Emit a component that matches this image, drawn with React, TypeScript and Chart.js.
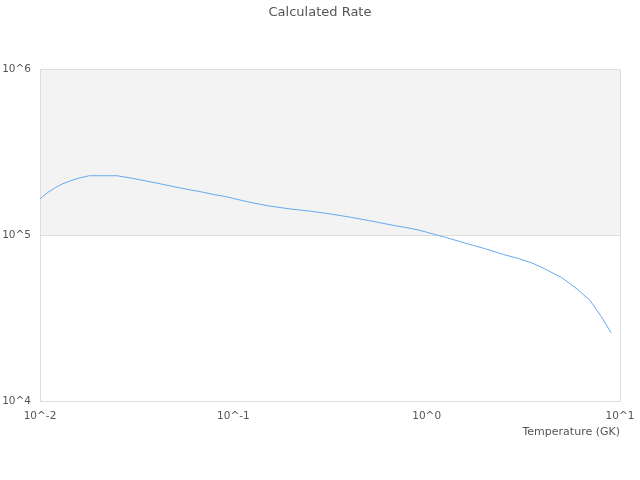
import { Chart, registerables, Plugin } from "chart.js";
import { useEffect, useRef } from "react";

Chart.register(...registerables);

const temperatures = [
  0.01, 0.011, 0.012, 0.013, 0.014, 0.015, 0.016, 0.018, 0.025, 0.03, 0.04,
  0.05, 0.06, 0.07, 0.08, 0.09, 0.1, 0.12, 0.15, 0.2, 0.25, 0.3, 0.4, 0.5,
  0.6, 0.7, 0.8, 0.9, 1, 1.25, 1.5, 1.75, 2, 2.5, 3, 3.5, 4, 5, 6, 7, 8, 9,
];

const rates = [
  1.66e5, 1.82e5, 1.94e5, 2.04e5, 2.11e5, 2.17e5, 2.22e5, 2.29e5, 2.29e5,
  2.21e5, 2.07e5, 1.96e5, 1.88e5, 1.82e5, 1.76e5, 1.72e5, 1.67e5, 1.59e5,
  1.51e5, 1.44e5, 1.4e5, 1.36e5, 1.29e5, 1.23e5, 1.18e5, 1.14e5, 1.11e5,
  1.08e5, 1.045e5, 9.74e4, 9.15e4, 8.7e4, 8.32e4, 7.67e4, 7.24e4, 6.82e4,
  6.36e4, 5.56e4, 4.75e4, 4.05e4, 3.24e4, 2.58e4,
];

const xTicks = [0.01, 0.1, 1, 10];
const yTicks = [1e4, 1e5, 1e6];
const bandRange = [1e5, 1e6];

const TEXT = "#555555";
const FONT = "'DejaVu Sans', sans-serif";

const powerLabel = (v: number | string) => "10^" + Math.round(Math.log10(Number(v)));

// grey band between 10^5 and 10^6, plus the right-hand frame line
const bandPlugin: Plugin = {
  id: "band",
  beforeDraw(chart) {
    const { ctx, chartArea, scales } = chart;
    const y = scales.y;
    const top = y.getPixelForValue(bandRange[1]);
    const bottom = y.getPixelForValue(bandRange[0]);
    ctx.save();
    ctx.fillStyle = "#f3f3f3";
    ctx.fillRect(chartArea.left, top, chartArea.right - chartArea.left, bottom - top);
    ctx.strokeStyle = "#dddddd";
    ctx.lineWidth = 1;
    ctx.beginPath();
    ctx.moveTo(Math.round(chartArea.right) + 0.5, chartArea.top);
    ctx.lineTo(Math.round(chartArea.right) + 0.5, chartArea.bottom);
    ctx.stroke();
    ctx.restore();
  },
};

function RateChart() {
  const canvasRef = useRef<HTMLCanvasElement>(null);
  const chartRef = useRef<Chart | null>(null);

  useEffect(() => {
    if (!canvasRef.current) return;
    if (chartRef.current) chartRef.current.destroy();

    chartRef.current = new Chart(canvasRef.current, {
      type: "line",
      data: {
        datasets: [
          {
            label: "Rate",
            data: temperatures.map((t, i) => ({ x: t, y: rates[i] })),
            borderColor: "rgb(100,170,240)",
            borderWidth: 1,
            pointRadius: 0,
            tension: 0,
            fill: false,
          },
        ],
      },
      options: {
        animation: false,
        responsive: true,
        maintainAspectRatio: false,
        layout: { padding: { left: 0, right: 0, bottom: 41 } },
        plugins: {
          legend: { display: false },
          tooltip: { enabled: false },
          title: {
            display: true,
            text: "Calculated Rate",
            color: TEXT,
            font: { family: FONT, size: 13, weight: "normal" },
            padding: { top: 5, bottom: 49 },
          },
        },
        scales: {
          x: {
            type: "logarithmic",
            min: 0.01,
            max: 10,
            afterBuildTicks: (scale) => {
              scale.ticks = xTicks.map((v) => ({ value: v }));
            },
            afterFit: (scale) => {
              scale.paddingRight = 20;
              scale.paddingLeft = 0;
            },
            grid: { display: false, drawTicks: false },
            border: { display: true, color: "#dddddd" },
            ticks: {
              color: TEXT,
              font: { family: FONT, size: 10.5 },
              padding: 9,
              maxRotation: 0,
              autoSkip: false,
              callback: powerLabel,
            },
            title: {
              display: true,
              text: "Temperature (GK)",
              align: "end",
              color: TEXT,
              font: { family: FONT, size: 11 },
              padding: { top: -6, bottom: 0 },
            },
          },
          y: {
            type: "logarithmic",
            min: 1e4,
            max: 1e6,
            afterBuildTicks: (scale) => {
              scale.ticks = yTicks.map((v) => ({ value: v }));
            },
            afterFit: (scale) => {
              scale.width = 40;
            },
            grid: { color: "#dddddd", drawTicks: false },
            border: { display: true, color: "#dddddd" },
            ticks: {
              color: TEXT,
              font: { family: FONT, size: 10.5 },
              padding: 9,
              autoSkip: false,
              callback: powerLabel,
            },
          },
        },
      },
      plugins: [bandPlugin],
    });

    return () => {
      if (chartRef.current) {
        chartRef.current.destroy();
        chartRef.current = null;
      }
    };
  }, []);

  return (
    <div style={{ position: "absolute", left: 0, top: 0, width: 640, height: 480 }}>
      <canvas ref={canvasRef}></canvas>
    </div>
  );
}

export default function App() {
  return <RateChart />;
}
